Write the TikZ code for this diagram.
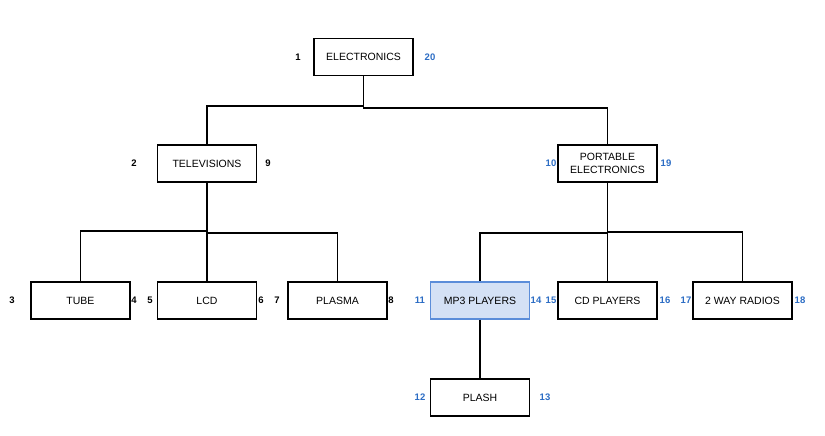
\documentclass[tikz,border=0pt]{standalone}
\usepackage{fontspec}
\setmainfont{Liberation Sans}
\usetikzlibrary{positioning}
\definecolor{numblue}{HTML}{2B6CC4}
\definecolor{selfill}{HTML}{D4E1F5}
\definecolor{seldraw}{HTML}{5B8DD9}
\tikzset{
  item/.style={rectangle, draw=black, line width=1.5pt, fill=white, minimum width=99pt, minimum height=37pt, align=center, font=\fontsize{10.5}{13}\selectfont, inner sep=2pt},
  selected/.style={item, draw=seldraw, fill=selfill, line width=1.2pt},
  num/.style={font=\fontsize{9.5}{10}\selectfont\bfseries, inner sep=0pt},
  link/.style={line width=1.6pt}
}
\begin{document}
\begin{tikzpicture}[x=1pt, y=-1pt]
    \useasboundingbox (0,0) rectangle (825,436);

    % Categorias
    \node[item] (elec) at (363.5,57) {ELECTRONICS};
    \node[item] (tv) at (207,163.5) {TELEVISIONS};
    \node[item] (port) at (607.5,163.5) {PORTABLE\\ELECTRONICS};
    \node[item] (tube) at (80.5,300.5) {TUBE};
    \node[item] (lcd) at (207,300.5) {LCD};
    \node[item] (plasma) at (337.5,300.5) {PLASMA};
    \node[selected] (mp3) at (480,300.5) {MP3 PLAYERS};
    \node[item] (cd) at (607.5,300.5) {CD PLAYERS};
    \node[item] (radio) at (742.5,300.5) {2 WAY RADIOS};
    \node[item] (plash) at (480,397.5) {PLASH};

    % Conexiones
    \draw[link] (elec.south) -- ++(0,30) -| (tv.north);
    \draw[link] (elec.south) -- ++(0,32) -| (port.north);
    \draw[link] (tv.south) -- ++(0,48) -| (tube.north);
    \draw[link] (tv.south) -- (lcd.north);
    \draw[link] (tv.south) -- ++(0,50) -| (plasma.north);
    \draw[link] (port.south) -- ++(0,50) -| (mp3.north);
    \draw[link] (port.south) -- (cd.north);
    \draw[link] (port.south) -- ++(0,49) -| (radio.north);
    \draw[link] (mp3.south) -- (plash.north);

    % Numeracion
    \foreach \num/\x/\y in {1/298/57, 2/134/163, 9/268/163, 3/12/300, 4/134/300, 5/150/300, 6/261/300, 7/277/300, 8/391/300}
        \node[num] (n\num) at (\x,\y) {\num};
    \foreach \num/\x/\y in {20/430/57, 10/551/163, 19/666/163, 11/420/300, 14/536/300, 15/551/300, 16/665/300, 17/686/300, 18/800/300, 12/420/397, 13/545/397}
        \node[num, text=numblue] (n\num) at (\x,\y) {\num};
\end{tikzpicture}
\end{document}
